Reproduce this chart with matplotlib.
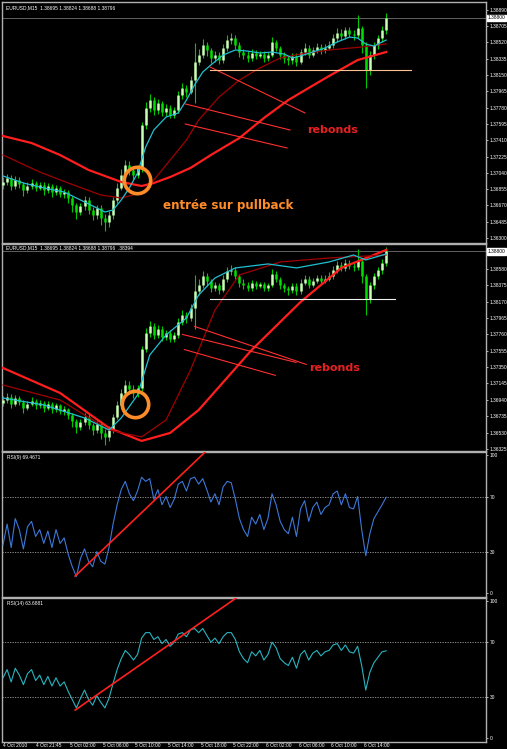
import matplotlib.pyplot as plt
import numpy as np
import pandas as pd

plt.rcParams['font.family'] = ['Liberation Sans', 'DejaVu Sans']

# EURUSD M15 (one bar every 30 min here), prices
start = pd.Timestamp('2010-10-04 17:45')
bar_step = pd.Timedelta(minutes=30)
first_open = 1.3690

close = [1.3694, 1.3698, 1.3689, 1.3696, 1.3691, 1.3684, 1.3689, 1.3692, 1.3687, 1.3690,
         1.3684, 1.3689, 1.3682, 1.3687, 1.3680, 1.3682, 1.3675, 1.3667, 1.3660, 1.3666,
         1.3673, 1.3662, 1.3656, 1.3664, 1.3653, 1.3648, 1.3656, 1.3673, 1.3687, 1.3702,
         1.3713, 1.3707, 1.3702, 1.3709, 1.3758, 1.3778, 1.3787, 1.3775, 1.3783, 1.3773,
         1.3778, 1.3770, 1.3775, 1.3792, 1.3800, 1.3796, 1.3809, 1.3830, 1.3838, 1.3849,
         1.3843, 1.3834, 1.3838, 1.3832, 1.3846, 1.3855, 1.3857, 1.3849, 1.3841, 1.3838,
         1.3834, 1.3840, 1.3837, 1.3839, 1.3834, 1.3838, 1.3852, 1.3846, 1.3838, 1.3834,
         1.3832, 1.3837, 1.3830, 1.3841, 1.3846, 1.3838, 1.3843, 1.3847, 1.3843, 1.3846,
         1.3849, 1.3857, 1.3863, 1.3859, 1.3866, 1.3862, 1.3860, 1.3868, 1.3849, 1.3821,
         1.3838, 1.3849, 1.3857, 1.3866, 1.3880]
high = [1.3699, 1.3703, 1.3701, 1.3700, 1.3699, 1.3694, 1.3693, 1.3697, 1.3695, 1.3694,
        1.3693, 1.3692, 1.3691, 1.3690, 1.3689, 1.3686, 1.3684, 1.3678, 1.3670, 1.3670,
        1.3678, 1.3676, 1.3665, 1.3668, 1.3667, 1.3657, 1.3661, 1.3676, 1.3692, 1.3708,
        1.3719, 1.3717, 1.3712, 1.3713, 1.3762, 1.3784, 1.3793, 1.3790, 1.3788, 1.3786,
        1.3782, 1.3781, 1.3779, 1.3797, 1.3806, 1.3804, 1.3814, 1.3851, 1.3845, 1.3856,
        1.3853, 1.3846, 1.3842, 1.3841, 1.3850, 1.3861, 1.3863, 1.3860, 1.3852, 1.3845,
        1.3842, 1.3844, 1.3843, 1.3842, 1.3842, 1.3841, 1.3858, 1.3855, 1.3848, 1.3841,
        1.3837, 1.3840, 1.3840, 1.3845, 1.3851, 1.3849, 1.3847, 1.3851, 1.3850, 1.3850,
        1.3854, 1.3862, 1.3868, 1.3867, 1.3870, 1.3869, 1.3866, 1.3883, 1.3871, 1.3852,
        1.3842, 1.3853, 1.3861, 1.3871, 1.3885]
low = [1.3686, 1.3690, 1.3684, 1.3686, 1.3687, 1.3678, 1.3681, 1.3686, 1.3683, 1.3684,
       1.3679, 1.3681, 1.3677, 1.3679, 1.3676, 1.3675, 1.3670, 1.3660, 1.3652, 1.3656,
       1.3662, 1.3657, 1.3650, 1.3652, 1.3645, 1.3638, 1.3642, 1.3652, 1.3670, 1.3684,
       1.3698, 1.3702, 1.3696, 1.3698, 1.3705, 1.3754, 1.3773, 1.3770, 1.3771, 1.3768,
       1.3769, 1.3766, 1.3766, 1.3772, 1.3788, 1.3790, 1.3793, 1.3783, 1.3826, 1.3834,
       1.3837, 1.3829, 1.3830, 1.3827, 1.3829, 1.3842, 1.3850, 1.3845, 1.3836, 1.3833,
       1.3830, 1.3831, 1.3833, 1.3834, 1.3830, 1.3831, 1.3835, 1.3842, 1.3833, 1.3829,
       1.3826, 1.3828, 1.3825, 1.3827, 1.3838, 1.3834, 1.3835, 1.3840, 1.3839, 1.3840,
       1.3843, 1.3846, 1.3853, 1.3855, 1.3856, 1.3858, 1.3855, 1.3857, 1.3840, 1.3800,
       1.3815, 1.3833, 1.3845, 1.3852, 1.3862]

# moving averages, read at a few bars
p1_fast_bar = [0, 5, 10, 15, 18, 20, 23, 25, 27, 29, 31, 33, 35, 37, 40, 43, 45, 47, 49, 51,
               54, 57, 60, 63, 66, 69, 71, 73, 76, 79, 82, 85, 87, 89, 91, 94]
p1_fast = [1.37004, 1.36924, 1.36868, 1.36822, 1.36754, 1.36709, 1.36641, 1.36595, 1.36618,
           1.36731, 1.36868, 1.37038, 1.37333, 1.37526, 1.37673, 1.37719, 1.37866, 1.38037,
           1.38184, 1.38264, 1.38377, 1.38434, 1.38422, 1.38400, 1.38411, 1.38388, 1.38343,
           1.38366, 1.38411, 1.38457, 1.38525, 1.38581, 1.38570, 1.38502, 1.38479, 1.38547]
p1_slow_bar = [0, 7, 14, 21, 29, 34, 37, 41, 46, 51, 58, 64, 70, 75, 80, 87, 94]
p1_slow = [1.37458, 1.37378, 1.37242, 1.37072, 1.36936, 1.36890, 1.36924, 1.36992, 1.37095,
           1.37242, 1.37435, 1.37662, 1.37866, 1.38003, 1.38139, 1.38320, 1.38411]
p1_mid_bar = [0, 9, 16, 24, 29, 34, 37, 41, 45, 48, 53, 58, 63, 68, 73, 80, 88, 94]
p1_mid = [1.37242, 1.37049, 1.36924, 1.36788, 1.36754, 1.36811, 1.36958, 1.37185, 1.37412,
          1.37639, 1.37900, 1.38093, 1.38230, 1.38343, 1.38388, 1.38434, 1.38468, 1.38502]

p2_fast_bar = [0, 10, 20, 26, 29, 33, 36, 40, 45, 48, 52, 57, 65, 72, 80, 86, 89, 94]
p2_fast = [1.36963, 1.36876, 1.36713, 1.36562, 1.36713, 1.37001, 1.37502, 1.37753, 1.37966,
           1.38254, 1.38467, 1.38593, 1.38643, 1.38593, 1.38668, 1.38755, 1.38693, 1.38768]
p2_slow_bar = [0, 14, 26, 34, 41, 48, 61, 73, 83, 94]
p2_slow = [1.37339, 1.37026, 1.36588, 1.36425, 1.36525, 1.36813, 1.37565, 1.38166, 1.38593, 1.38818]
p2_mid_bar = [0, 14, 26, 34, 40, 46, 52, 58, 68, 80, 94]
p2_mid = [1.37126, 1.36938, 1.36562, 1.36475, 1.36688, 1.37314, 1.38066, 1.38505, 1.38668,
          1.38718, 1.38755]

rsi9 = [35, 50, 33, 54, 46, 32, 48, 52, 41, 46, 36, 45, 33, 46, 36, 40, 28, 19, 12, 25,
        32, 23, 19, 30, 23, 21, 33, 50, 64, 75, 81, 72, 67, 74, 84, 81, 83, 68, 75, 64,
        70, 62, 68, 79, 81, 74, 83, 84, 79, 83, 75, 66, 72, 64, 77, 81, 80, 68, 54, 46,
        41, 55, 50, 57, 46, 54, 72, 64, 52, 46, 43, 55, 41, 61, 67, 52, 62, 66, 57, 62,
        64, 72, 74, 64, 72, 62, 61, 70, 46, 27, 43, 54, 59, 64, 69.47]
rsi14 = [44, 50, 41, 51, 46, 39, 47, 50, 42, 46, 39, 45, 38, 44, 38, 41, 34, 28, 22, 29,
         35, 28, 24, 31, 26, 22, 29, 40, 50, 58, 64, 61, 57, 61, 73, 77, 77, 72, 74, 69,
         72, 67, 70, 76, 77, 74, 79, 80, 77, 80, 75, 70, 73, 69, 74, 77, 77, 72, 63, 58,
         55, 63, 60, 64, 57, 61, 70, 66, 58, 55, 53, 59, 51, 61, 64, 57, 62, 64, 60, 63,
         64, 68, 69, 64, 68, 63, 62, 67, 53, 35, 48, 55, 59, 63, 63.69]

# hand drawn marks: (bar, value) pairs
p1_rebound_lines = [[(50.8, 1.38241), (74.1, 1.37719)],
                    [(44.7, 1.37822), (70.4, 1.37526)],
                    [(44.7, 1.37594), (69.7, 1.37322)]]
p2_rebound_lines = [[(47.0, 1.37860), (74.4, 1.37384)],
                    [(44.0, 1.37760), (71.9, 1.37409)],
                    [(44.5, 1.37570), (66.8, 1.37247)]]
support = 1.3821
p1_support_bars = (50.8, 100.1)
p2_support_bars = (50.8, 96.2)
p1_circle = (32.9, 1.36958)
p2_circle = (32.4, 1.36888)
rsi9_trend = [(17.7, 12.3), (49.6, 102.3)]
rsi14_trend = [(17.7, 20.4), (57.2, 102.3)]

tick_times = ['2010-10-04 17:45', '2010-10-04 21:45', '2010-10-05 02:00', '2010-10-05 06:00',
              '2010-10-05 10:00', '2010-10-05 14:00', '2010-10-05 18:00', '2010-10-05 22:00',
              '2010-10-06 02:00', '2010-10-06 06:00', '2010-10-06 10:00', '2010-10-06 14:00']

BG = 'black'
FRAME = '#b0b0b0'
SMALL = 3.5
W, H = 507, 749

fig = plt.figure(figsize=(W / 100, H / 100), dpi=100, facecolor=BG)


def make_ax(top, bottom):
    ax = fig.add_axes([2 / W, 1 - bottom / H, 484 / W, (bottom - top) / H], facecolor=BG)
    for s in ax.spines.values():
        s.set_color(FRAME)
        s.set_linewidth(1)
    ax.set_xlim(-0.25, 118.5)
    ax.yaxis.tick_right()
    ax.tick_params(axis='y', colors='white', labelsize=SMALL, length=1.5, width=0.5, pad=1)
    ax.tick_params(axis='x', length=0)
    ax.set_xticks([])
    return ax


ax1 = make_ax(2, 243)
ax2 = make_ax(244, 451)
ax3 = make_ax(452, 597)
ax4 = make_ax(598, 742)

x = np.arange(len(close))
opens = np.array([first_open] + close[:-1])
closes = np.array(close)
up = closes >= opens


def candles(ax):
    ax.vlines(x, low, high, colors='#00c800', lw=0.8, zorder=3)
    ax.vlines(x[up], opens[up], closes[up], colors='#c8ffb4', lw=1.8, zorder=4)
    ax.vlines(x[~up], opens[~up], closes[~up], colors='#00e000', lw=1.8, zorder=4)


def price_box(ax, value):
    ax.axhline(value, color='#707070', lw=0.6, zorder=2)
    ax.text(1.004, value, f'{value:.5f}', transform=ax.get_yaxis_transform(),
            fontsize=SMALL, color='black', va='center', ha='left',
            bbox=dict(boxstyle='square,pad=0.12', fc='white', ec='white'))


# panel 1
candles(ax1)
ax1.plot(p1_slow_bar, p1_slow, color='#ff1e1e', lw=1.6, zorder=5)
ax1.plot(p1_mid_bar, p1_mid, color='#a00000', lw=0.9, zorder=5)
ax1.plot(p1_fast_bar, p1_fast, color='#20c0d0', lw=0.9, zorder=6)
for (x0, y0), (x1, y1) in p1_rebound_lines:
    ax1.plot([x0, x1], [y0, y1], color='#ff3030', lw=0.8, zorder=7)
ax1.plot(p1_support_bars, [support, support], color='#ffc090', lw=0.8, zorder=7)
ax1.plot(*p1_circle, 'o', ms=19, mfc='none', mec='#ff8c28', mew=2.6, zorder=8)
ax1.text(74.5, 1.37525, 'rebonds', color='#e82020', fontsize=8, fontweight='bold',
         family='DejaVu Sans', va='center', zorder=9)
ax1.text(39.2, 1.36664, 'entrée sur pullback', color='#ff8c28', fontsize=8.6,
         fontweight='bold', family='DejaVu Sans', va='center', zorder=9)
p1_ticks = [1.36300 + k * 0.00185 for k in range(15)]
ax1.set_yticks(p1_ticks)
ax1.set_yticklabels([f'{v:.5f}' for v in p1_ticks])
ax1.set_ylim(1.36243, 1.38979)
price_box(ax1, close[-1])
ax1.text(0.008, 0.988, 'EURUSD,M15  1.38695 1.38824 1.38688 1.38796', transform=ax1.transAxes,
         color='white', fontsize=SMALL, va='top', ha='left')

# panel 2
candles(ax2)
ax2.plot(p2_slow_bar, p2_slow, color='#ff1e1e', lw=1.6, zorder=5)
ax2.plot(p2_mid_bar, p2_mid, color='#a00000', lw=0.9, zorder=5)
ax2.plot(p2_fast_bar, p2_fast, color='#20c0d0', lw=0.9, zorder=6)
for (x0, y0), (x1, y1) in p2_rebound_lines:
    ax2.plot([x0, x1], [y0, y1], color='#ff3030', lw=0.8, zorder=7)
ax2.plot(p2_support_bars, [support, support], color='#f0f0f0', lw=0.8, zorder=7)
ax2.plot(*p2_circle, 'o', ms=19, mfc='none', mec='#ff8c28', mew=2.6, zorder=8)
ax2.text(75.0, 1.37340, 'rebonds', color='#e82020', fontsize=8, fontweight='bold',
         family='DejaVu Sans', va='center', zorder=9)
p2_ticks = [1.36325 + k * 0.00205 for k in range(12)]
ax2.set_yticks(p2_ticks)
ax2.set_yticklabels([f'{v:.5f}' for v in p2_ticks])
ax2.set_ylim(1.36299, 1.38893)
price_box(ax2, close[-1])
ax2.text(0.008, 0.993, 'EURUSD,M15  1.38695 1.38824 1.38688 1.38796  .38394',
         transform=ax2.transAxes, color='white', fontsize=SMALL, va='top', ha='left')

# RSI panels
for ax, rsi, trend, col, name in [(ax3, rsi9, rsi9_trend, '#3c78d8', 'RSI(9) 69.4671'),
                                  (ax4, rsi14, rsi14_trend, '#28b4c0', 'RSI(14) 63.6881')]:
    ax.plot(x, rsi, color=col, lw=0.8, zorder=4)
    for lvl in (70, 30):
        ax.axhline(lvl, color='#a0a0a0', lw=0.6, ls=(0, (1.5, 1.5)), zorder=2)
    (tx0, ty0), (tx1, ty1) = trend
    ax.plot([tx0, tx1], [ty0, ty1], color='#ff2020', lw=1.2, zorder=6)
    ax.set_ylim(-2.9, 102.3)
    ax.set_yticks([0, 30, 70, 100])
    ax.text(0.01, 0.98, name, transform=ax.transAxes, color='white', fontsize=SMALL,
            va='top', ha='left')

# time axis
tick_pos = [(pd.Timestamp(t) - start) / bar_step for t in tick_times]
tick_lab = ['4 Oct 2010'] + [f'{pd.Timestamp(t).day} {pd.Timestamp(t):%b %H:%M}'
                             for t in tick_times[1:]]
for p, lab in zip(tick_pos, tick_lab):
    ax4.text(p, -0.01, lab, transform=ax4.get_xaxis_transform(), color='white',
             fontsize=SMALL, ha='left', va='top')

fig.savefig('out.png', dpi=100, facecolor=BG)
